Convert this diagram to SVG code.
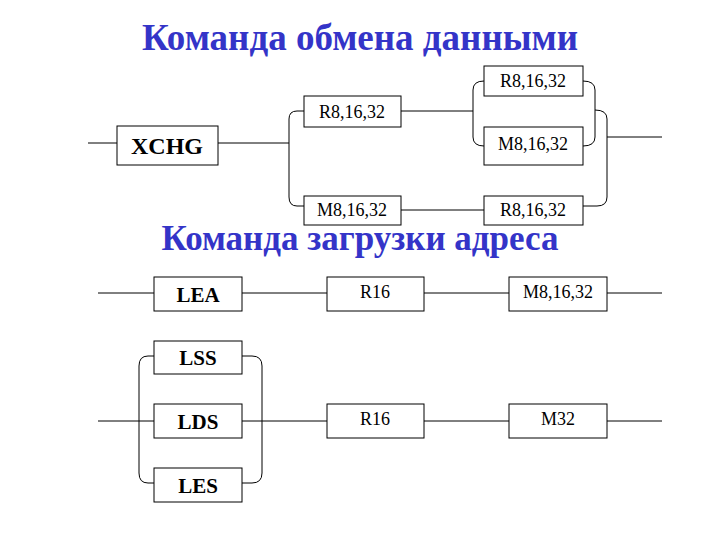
<svg xmlns="http://www.w3.org/2000/svg" width="720" height="540" viewBox="0 0 720 540" font-family="'Liberation Serif', 'Times New Roman', serif">
<style>
text{font-family:'Liberation Serif','Times New Roman',serif}
.t{font-weight:bold;font-size:37px;fill:#3434c8;text-anchor:middle}
.b rect{fill:#fff;stroke:#000;stroke-width:1}
.n{font-size:18px;text-anchor:middle}
.k{font-size:24px;font-weight:bold;text-anchor:middle}
.c{fill:none;stroke:#000;stroke-width:1}
</style>
<rect width="720" height="540" fill="#fff"/>
<text class="t" x="360" y="50">Команда обмена данными</text>
<text class="t" x="360" y="250" style="font-size:35px">Команда загрузки адреса</text>
<g id="connectors" class="c">
<path d="M88 143H117M218 143H289"/>
<path d="M304 111H297Q289 111 289 119V197Q289 206 297 206H304"/>
<path d="M401 111H473"/>
<path d="M484 81Q473 81 473 90V137Q473 146 484 146"/>
<path d="M583 81Q595 81 595 90V137Q595 146 583 146"/>
<path d="M595 110Q607 110 607 119V197Q607 206 597 206H583"/>
<path d="M607 137H662"/>
<path d="M401 210H484"/>
<path d="M98 293H154M242 293H327M424 293H509M607 293H662"/>
<path d="M98 421H154M242 421H327M424 421H509M607 421H662"/>
<path d="M154 356H148Q139 356 139 366V473Q139 483 148 483H154"/>
<path d="M242 356H252Q262 356 262 366V473Q262 483 252 483H242"/>
</g>
<g class="b">
<g id="xchg"><rect x="117" y="126" width="101" height="39"/><text class="k" x="167" y="154">XCHG</text></g>
<g id="r1"><rect x="304" y="96" width="97" height="31"/><text class="n" x="352" y="118">R8,16,32</text></g>
<g id="m1"><rect x="304" y="196" width="97" height="29"/><text class="n" x="352" y="216">M8,16,32</text></g>
<g id="r2"><rect x="484" y="66" width="99" height="30"/><text class="n" x="533" y="87">R8,16,32</text></g>
<g id="m2"><rect x="484" y="127" width="99" height="38"/><text class="n" x="533" y="150">M8,16,32</text></g>
<g id="r3"><rect x="484" y="196" width="99" height="29"/><text class="n" x="533" y="216">R8,16,32</text></g>
<g id="lea"><rect x="154" y="277" width="88" height="34"/><text class="k" x="198" y="302" style="font-size:21px">LEA</text></g>
<g id="r16a"><rect x="327" y="277" width="97" height="34"/><text class="n" x="375" y="298">R16</text></g>
<g id="m8"><rect x="509" y="277" width="98" height="34"/><text class="n" x="558" y="298">M8,16,32</text></g>
<g id="lss"><rect x="154" y="341" width="88" height="33"/><text class="k" x="198" y="365" style="font-size:21px">LSS</text></g>
<g id="lds"><rect x="154" y="404" width="88" height="34"/><text class="k" x="198" y="429" style="font-size:21px">LDS</text></g>
<g id="les"><rect x="154" y="468" width="88" height="34"/><text class="k" x="198" y="493" style="font-size:21px">LES</text></g>
<g id="r16b"><rect x="327" y="404" width="97" height="34"/><text class="n" x="375" y="425">R16</text></g>
<g id="m32"><rect x="509" y="404" width="98" height="34"/><text class="n" x="558" y="425">M32</text></g>
</g>
</svg>
